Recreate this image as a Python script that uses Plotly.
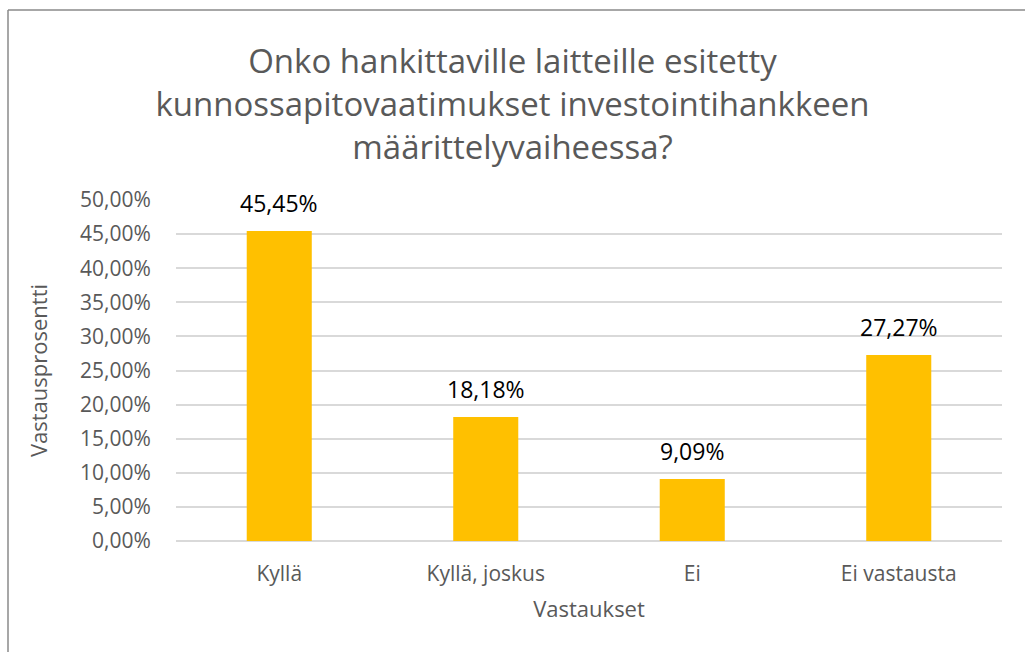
import plotly.graph_objects as go

categories = ["Kyllä", "Kyllä, joskus", "Ei", "Ei vastausta"]
values = [45.45, 18.18, 9.09, 27.27]
tick_values = [0, 5, 10, 15, 20, 25, 30, 35, 40, 45, 50]
tick_labels = [f"{v:.2f}".replace(".", ",") + "%" for v in tick_values]

title_text = "Onko hankittaville laitteille esitetty<br>kunnossapitovaatimukset investointihankkeen<br>määrittelyvaiheessa?"
x_title = "Vastaukset"
y_title = "Vastausprosentti"

FONT = "Open Sans"
GRAY = "#595959"

W, H = 1025, 652
ML, MR, MT, MB = 176, 23, 200, 111
pw, ph = W - ML - MR, H - MT - MB

def px_to_paper_x(px):
    return (px - ML) / pw

def px_to_paper_y(py):
    return 1 + (MT - py) / ph

fig = go.Figure()
fig.add_trace(go.Bar(
    x=categories, y=values,
    marker=dict(color="#FFC000", line=dict(width=0)),
    hoverinfo="skip",
))

for c, v in zip(categories, values):
    fig.add_annotation(
        x=c, y=v, text=f"{v:.2f}".replace(".", ",") + "%",
        showarrow=False, yanchor="bottom", yshift=10,
        font=dict(family=FONT, size=23, color="#000000"),
    )

border = "#8a8a8a"
fig.add_shape(type="line", xref="paper", yref="paper",
              x0=px_to_paper_x(8), x1=px_to_paper_x(1030),
              y0=px_to_paper_y(10), y1=px_to_paper_y(10),
              line=dict(color=border, width=1.5))
fig.add_shape(type="line", xref="paper", yref="paper",
              x0=px_to_paper_x(8), x1=px_to_paper_x(8),
              y0=px_to_paper_y(10), y1=px_to_paper_y(660),
              line=dict(color=border, width=1.5))

fig.update_layout(
    width=W, height=H,
    margin=dict(l=ML, r=MR, t=MT, b=MB),
    paper_bgcolor="white", plot_bgcolor="white",
    bargap=0.685,
    showlegend=False,
    title=dict(text=title_text, x=0.5, xanchor="center",
               y=1 - 73 / H, yanchor="middle",
               font=dict(family=FONT, size=33, color=GRAY)),
    xaxis=dict(
        title=dict(text=x_title, font=dict(family=FONT, size=22, color=GRAY), standoff=15),
        tickfont=dict(family=FONT, size=21, color=GRAY),
        ticks="outside", ticklen=14, tickcolor="rgba(0,0,0,0)",
        showline=False, showgrid=False,
    ),
    yaxis=dict(
        title=dict(text=y_title, font=dict(family=FONT, size=22, color=GRAY), standoff=26),
        range=[0, 50], tickvals=tick_values, ticktext=tick_labels,
        tickfont=dict(family=FONT, size=21, color=GRAY),
        ticks="outside", ticklen=20, tickcolor="rgba(0,0,0,0)",
        showgrid=True, gridcolor="#d9d9d9", gridwidth=1.5,
        zeroline=True, zerolinecolor="#d9d9d9", zerolinewidth=1.5,
        showline=False,
    ),
)

fig.write_html("out.html")
